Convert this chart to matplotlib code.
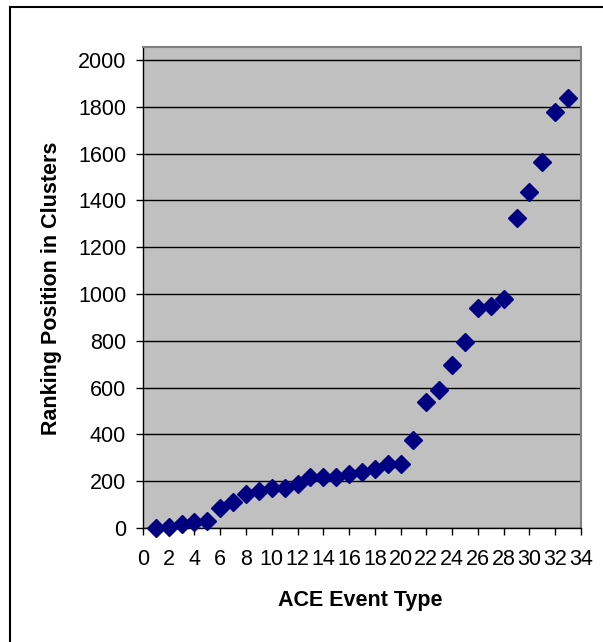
import matplotlib.pyplot as plt
from matplotlib.lines import Line2D

plt.rcParams['font.family'] = ['Liberation Sans', 'DejaVu Sans']

# ACE event type index vs. ranking position
event_type = list(range(1, 34))
ranking = [0, 5, 15, 25, 30, 85, 110, 145, 160, 170,
           170, 190, 220, 220, 220, 230, 240, 250, 275, 275,
           375, 540, 590, 695, 795, 940, 950, 980, 1325, 1435,
           1565, 1780, 1840]

x_ticks = list(range(0, 35, 2))
y_ticks = list(range(0, 2001, 200))

fig = plt.figure(figsize=(6.03, 6.42), dpi=100)
ax = fig.add_axes([0.237, 0.1776, 0.7265, 0.7492])
ax.set_facecolor('#C0C0C0')

ax.plot(event_type, ranking, linestyle='none', marker='D', markersize=9,
        color='#000080', zorder=3, clip_on=False)

ax.set_xlim(0, 34)
ax.set_ylim(0, 2056)
ax.set_xticks(x_ticks)
ax.set_yticks(y_ticks)
ax.grid(axis='y', color='black', linewidth=1.0)
ax.set_axisbelow(True)

for side in ['top', 'right']:
    ax.spines[side].set_color('#808080')
    ax.spines[side].set_linewidth(1.5)
for side in ['left', 'bottom']:
    ax.spines[side].set_color('black')
    ax.spines[side].set_linewidth(1.0)

ax.tick_params(direction='out', length=5, width=1, labelsize=15.5)
ax.tick_params(axis='y', pad=7)
ax.tick_params(axis='x', pad=10)

fig.text(0.597, 0.065, 'ACE Event Type', ha='center', va='center',
         fontsize=15.5, fontweight='bold')
fig.text(0.086, 0.551, 'Ranking Position in Clusters', ha='center', va='center',
         rotation=90, fontsize=15.5, fontweight='bold')

# outer chart frame (only top and left are inside the image)
fig.add_artist(Line2D([10 / 603, 10 / 603], [0, 1 - 7 / 642], color='black', linewidth=1.5))
fig.add_artist(Line2D([10 / 603, 1], [1 - 7 / 642, 1 - 7 / 642], color='black', linewidth=1.5))

fig.savefig('out.png', dpi=100)
